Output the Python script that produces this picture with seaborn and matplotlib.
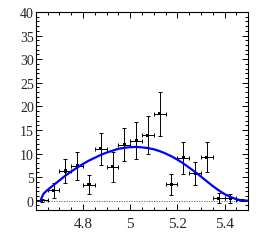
"""Mass spectrum with a fit curve, ROOT-like style"""

import matplotlib
matplotlib.use("Agg")
import matplotlib.pyplot as plt
from matplotlib.ticker import MultipleLocator
import pandas as pd
import seaborn as sns

# binned data (bin centres, contents, errors)
bin_centers = [4.625, 4.675, 4.725, 4.775, 4.825, 4.875, 4.925, 4.975, 5.025,
               5.075, 5.125, 5.175, 5.225, 5.275, 5.325, 5.375, 5.425, 5.475]
counts = [0.1, 2.2, 6.3, 7.4, 3.4, 11.0, 7.2, 11.9, 12.7,
          13.9, 18.4, 3.5, 9.1, 5.8, 9.2, 0.5, 0.5, 0.1]
err_low = [0.3, 1.6, 2.6, 3.0, 2.0, 3.5, 3.3, 3.4, 3.8,
           4.0, 4.7, 2.4, 3.4, 2.5, 3.2, 1.0, 0.9, 0.2]
err_high = [0.3, 1.6, 2.6, 3.0, 2.0, 3.4, 3.2, 3.6, 3.9,
            4.0, 4.6, 2.2, 3.4, 2.5, 3.2, 1.2, 1.0, 0.2]
half_width = 0.025

# fit curve
curve_x = [4.620, 4.625, 4.633, 4.650, 4.675, 4.700, 4.725, 4.750, 4.775, 4.800,
           4.825, 4.850, 4.875, 4.900, 4.925, 4.950, 4.975, 5.000, 5.025, 5.050,
           5.075, 5.100, 5.125, 5.150, 5.175, 5.200, 5.225, 5.250, 5.275, 5.300,
           5.325, 5.350, 5.375, 5.400, 5.425, 5.450, 5.475, 5.500]
curve_y = [0.0, 0.7, 1.5, 2.3, 3.3, 4.3, 5.3, 6.2, 7.0, 7.8,
           8.5, 9.1, 9.7, 10.2, 10.6, 11.0, 11.2, 11.35, 11.4, 11.3,
           11.15, 10.9, 10.5, 10.0, 9.4, 8.7, 7.9, 7.0, 6.1, 5.1,
           4.1, 3.1, 2.2, 1.4, 0.8, 0.3, 0.05, 0.0]

data = pd.DataFrame({"x": bin_centers, "y": counts})
fit = pd.DataFrame({"x": curve_x, "y": curve_y})

sns.set_style("ticks")
plt.rcParams["font.family"] = "serif"
plt.rcParams["font.serif"] = ["Liberation Serif", "DejaVu Serif"]

fig = plt.figure(figsize=(2.62, 2.51), dpi=100)
ax = fig.add_axes([0.137, 0.159, 0.810, 0.789])

ax.axhline(0, color="0.35", lw=0.6, ls=(0, (1.5, 1.5)), zorder=1)

ax.errorbar(
    data["x"], data["y"],
    xerr=half_width,
    yerr=[err_low, err_high],
    fmt="none", ecolor="black", elinewidth=0.7, capsize=1.5, capthick=0.7,
    zorder=2,
)
sns.scatterplot(data=data, x="x", y="y", marker="s", s=5, color="black",
                edgecolor="none", ax=ax, zorder=3)
sns.lineplot(data=fit, x="x", y="y", color="#0000ff", lw=1.6, ax=ax, zorder=4)

ax.set_xlim(4.6, 5.5)
ax.set_ylim(-2, 40)
ax.set_xlabel("")
ax.set_ylabel("")

ax.xaxis.set_minor_locator(MultipleLocator(0.05))
ax.yaxis.set_minor_locator(MultipleLocator(1))
ax.set_xticks([4.8, 5.0, 5.2, 5.4])
ax.set_xticklabels(["4.8", "5", "5.2", "5.4"])
ax.set_yticks([0, 5, 10, 15, 20, 25, 30, 35, 40])

for side in ax.spines.values():
    side.set_linewidth(0.8)
    side.set_color("black")

ax.tick_params(which="both", direction="in", top=True, right=True,
               color="black", width=0.7)
ax.tick_params(which="major", length=4.5)
ax.tick_params(which="minor", length=2.3)
ax.tick_params(axis="x", labelsize=11, pad=5)
ax.tick_params(axis="y", labelsize=10, pad=1.5)

fig.savefig("out.png", dpi=100)
